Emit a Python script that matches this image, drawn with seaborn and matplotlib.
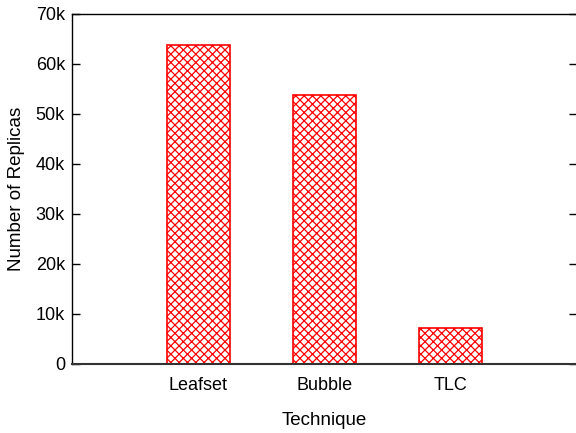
import matplotlib
matplotlib.use("Agg")
import matplotlib.pyplot as plt
import seaborn as sns
import pandas as pd

techniques = ["Leafset", "Bubble", "TLC"]
replicas = [63800, 53800, 7200]
y_ticks = [0, 10000, 20000, 30000, 40000, 50000, 60000, 70000]
y_tick_labels = ["0", "10k", "20k", "30k", "40k", "50k", "60k", "70k"]

sns.set_theme(style="ticks")
plt.rcParams["font.family"] = ["Liberation Sans", "DejaVu Sans"]
plt.rcParams["hatch.linewidth"] = 0.9
plt.rcParams["text.color"] = "black"
plt.rcParams["axes.labelcolor"] = "black"

df = pd.DataFrame({"Technique": techniques, "Replicas": replicas})

fig = plt.figure(figsize=(5.76, 4.33), dpi=100)
ax = fig.add_axes([72 / 576, 1 - 364 / 433, 505 / 576, 350 / 433])

sns.barplot(data=df, x="Technique", y="Replicas", color="white", width=0.5,
            ax=ax, errorbar=None)
for bar in ax.patches:
    bar.set_facecolor("white")
    bar.set_edgecolor("#ff0000")
    bar.set_hatch("xxxx")
    bar.set_linewidth(1.2)

ax.set_xlim(-1, 3)
ax.set_ylim(0, 70000)
ax.set_yticks(y_ticks)
ax.set_yticklabels(y_tick_labels)
ax.tick_params(axis="y", direction="in", length=6, width=1, left=True,
               right=True, labelsize=13, pad=5, colors="black")
ax.tick_params(axis="x", length=0, labelsize=13, pad=9, colors="black")
for side in ["left", "right", "top", "bottom"]:
    ax.spines[side].set_visible(True)
    ax.spines[side].set_color("black")
    ax.spines[side].set_linewidth(1.0)
ax.spines["bottom"].set_color("#333333")
ax.spines["bottom"].set_linewidth(1.5)

ax.set_xlabel("Technique", fontsize=13.5, labelpad=13, color="black")
ax.set_ylabel("Number of Replicas", fontsize=13.5, labelpad=8, color="black")

fig.savefig("out.png", dpi=100)
